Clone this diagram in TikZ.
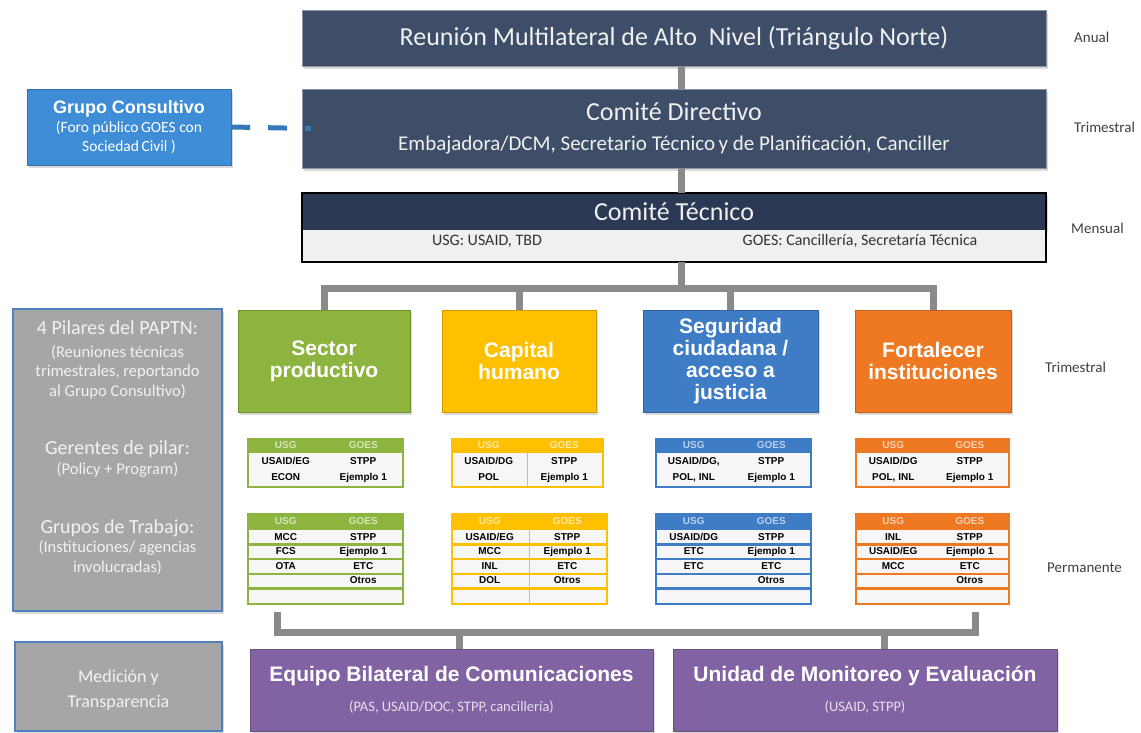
\documentclass[tikz,border=0pt]{standalone}
\usepackage{fontspec}
\setmainfont{Carlito}
\newfontfamily\arialfont{Liberation Sans}
\usetikzlibrary{positioning,calc,shadows}

\definecolor{azulnoche}{RGB}{62,77,104}
\definecolor{azultec}{RGB}{43,57,84}
\definecolor{grislinea}{RGB}{138,138,138}
\definecolor{grispanel}{RGB}{166,166,166}
\definecolor{bordepanel}{RGB}{79,129,189}
\definecolor{azulgrupo}{RGB}{62,141,214}
\definecolor{verde}{RGB}{141,180,62}
\definecolor{amarillo}{RGB}{255,192,0}
\definecolor{azul}{RGB}{62,124,198}
\definecolor{naranja}{RGB}{239,121,34}
\definecolor{morado}{RGB}{129,99,163}

\begin{document}
\begin{tikzpicture}[x=1pt, y=-1pt,
  sombra/.style={drop shadow={shadow xshift=2pt, shadow yshift=-3pt, opacity=0.3}},
  caja/.style={sombra, fill=azulnoche, draw=azulnoche!60!white, line width=0.8, minimum width=744, inner sep=0pt, align=center, text=white!94!black},
  pilar/.style={sombra, fill=#1, draw=#1!80!black, line width=0.6, minimum height=102, inner sep=0pt, align=center, text=white, font=\arialfont\bfseries\fontsize{21}{22}\selectfont},
  panel/.style={sombra, fill=grispanel, draw=bordepanel, line width=2, inner sep=0pt},
  textopanel/.style={align=center, inner sep=0pt, text=white!85!grispanel, font=\fontsize{16.5}{19.5}\selectfont},
  resultado/.style={sombra, fill=morado, draw=morado!80!black, line width=0.6, inner sep=0pt, minimum height=82, align=center, text=white, font=\fontsize{14.5}{30}\selectfont},
  conexion/.style={draw=grislinea, line width=7},
  etiqueta/.style={anchor=west, inner sep=0pt, text=black!75, font=\fontsize{15}{18}\selectfont},
  tabla/.style={draw=#1, fill=gray!7, line width=2, inner sep=0pt, anchor=north west},
  cabeza/.style={text=#1!35, font=\arialfont\bfseries\fontsize{10}{12}\selectfont, inner sep=0pt, text height=7.2pt, text depth=1.8pt},
  celda/.style={text=black, font=\arialfont\bfseries\fontsize{10}{12}\selectfont, inner sep=0pt, text height=7.2pt, text depth=1.8pt}
]

\useasboundingbox (0,0) rectangle (1141,732);

% niveles de coordinacion
\node[caja, minimum height=56, font=\fontsize{26}{30}\selectfont] (reunion) at (674,38) {Reunión Multilateral de Alto\ \ Nivel (Triángulo Norte)};
\node[caja, minimum height=79, font=\fontsize{21}{30}\selectfont] (directivo) at (674,128.5)
  {{\fontsize{26}{30}\selectfont Comité Directivo}\\Embajadora/DCM, Secretario Técnico\,y de Planificación, Canciller};
\node[caja, fill=azultec, draw=azultec, minimum height=37, font=\fontsize{26}{30}\selectfont] (tecnico) at (674,211.5) {Comité Técnico};
\node[fill=gray!12, minimum width=744, minimum height=32, inner sep=0pt] (miembros) at (674,246) {};
\draw[black, line width=2] (tecnico.north west) rectangle (miembros.south east);
\node[font=\fontsize{16}{18}\selectfont, text=black!80] (usg) at (487,241) {USG:\ USAID, TBD};
\node[font=\fontsize{16}{18}\selectfont, text=black!80] (goes) at (860,241) {GOES: Cancillería, Secretaría Técnica};

% grupo consultivo
\node[sombra, fill=azulgrupo, draw=azulgrupo!80!black, minimum width=204, minimum height=76, inner sep=0pt, align=center, text=white, font=\fontsize{15.5}{19}\selectfont] (grupo) at (129,127)
  {{\arialfont\bfseries\fontsize{18}{19}\selectfont Grupo Consultivo}\\(Foro público\,GOES con\\Sociedad\,Civil )};
\draw[azulgrupo!85!black, line width=5, dash pattern=on 19pt off 18pt] (grupo.east) -- ([xshift=9]directivo.west);

% frecuencia
\node[etiqueta] (anual) at (1074,37) {Anual};
\node[etiqueta] (trimdir) at (1074,127) {Trimestral};
\node[etiqueta] (mensual) at (1071,228) {Mensual};
\node[etiqueta] (trimpil) at (1045,367) {Trimestral};
\node[etiqueta] (permanente) at (1047,568) {Permanente};

% paneles grises
\node[panel, minimum width=209, minimum height=302] (pilares) at (117.5,460) {};
\node[textopanel] (pilarestxt) at (117.5,360) {{\fontsize{20}{19.5}\selectfont 4 Pilares del PAPTN:}\\[3pt](Reuniones técnicas\\trimestrales, reportando\\al Grupo Consultivo)};
\node[textopanel] (gerentestxt) at (117.5,459) {{\fontsize{20}{19.5}\selectfont Gerentes de pilar:}\\(Policy + Program)};
\node[textopanel] (grupostxt) at (117.5,547) {{\fontsize{20}{19.5}\selectfont Grupos de Trabajo:}\\(Instituciones/ agencias\\involucradas)};
\node[panel, minimum width=207, minimum height=89] (medicion) at (118.5,686.5) {};
\node[textopanel, font=\fontsize{18}{25}\selectfont] (mediciontxt) at (118.5,690) {Medición y\\Transparencia};

% pilares
\node[pilar=verde, minimum width=172] (sector) at (324,361) {Sector\\productivo};
\node[pilar=amarillo, minimum width=154] (capital) at (519,361) {Capital\\humano};
\node[pilar=azul, minimum width=175] (seguridad) at (730.5,361) {Seguridad\\ciudadana /\\acceso a\\justicia};
\node[pilar=naranja, minimum width=156] (fortalecer) at (933,361) {Fortalecer\\instituciones};

% conexiones
\coordinate (bus) at (681,288);
\draw[conexion] ([xshift=7]reunion.south) -- ([xshift=7]directivo.north);
\draw[conexion] ([xshift=7]directivo.south) -- ([xshift=7]tecnico.north);
\draw[conexion] ([xshift=7]miembros.south) -- (bus);
\foreach \pil in {sector, capital, seguridad, fortalecer}
    \draw[conexion] (\pil.north) |- (bus);

% gerentes de pilar
\foreach \pil/\col/\xl/\w/\filas in {
    sec/verde/247/155/{{USAID/EG}/STPP, ECON/{Ejemplo 1}},
    cap/amarillo/451/151/{{USAID/DG}/STPP, POL/{Ejemplo 1}},
    seg/azul/655/155/{{USAID/DG,}/STPP, {POL, INL}/{Ejemplo 1}},
    for/naranja/855/153/{{USAID/DG}/STPP, {POL, INL}/{Ejemplo 1}}}
{
    \node[tabla=\col, minimum width=\w, minimum height=48] (g\pil) at (\xl,438) {};
    \fill[\col] (g\pil.north west) rectangle ([yshift=-15]g\pil.north east);
    \node[cabeza=\col] (g\pil-usg) at ($(g\pil.north west)+(0.25*\w,7.5)$) {USG};
    \node[cabeza=\col] (g\pil-goes) at ($(g\pil.north west)+(0.75*\w,7.5)$) {GOES};
    \foreach \us/\go [count=\i] in \filas {
        \node[celda] (g\pil-u\i) at ($(g\pil.north west)+(0.25*\w,15+16*\i-7)$) {\us};
        \node[celda] (g\pil-g\i) at ($(g\pil.north west)+(0.75*\w,15+16*\i-7)$) {\go};
    }
}

% grupos de trabajo
\foreach \pil/\col/\xl/\w/\filas in {
    sec/verde/247/155/{MCC/STPP, FCS/{Ejemplo 1}, OTA/ETC, {}/Otros},
    cap/amarillo/451/155/{{USAID/EG}/STPP, MCC/{Ejemplo 1}, INL/ETC, DOL/Otros},
    seg/azul/655/155/{{USAID/DG}/STPP, ETC/{Ejemplo 1}, ETC/ETC, {}/Otros},
    for/naranja/855/153/{INL/STPP, {USAID/EG}/{Ejemplo 1}, MCC/ETC, {}/Otros}}
{
    \node[tabla=\col, minimum width=\w, minimum height=90] (t\pil) at (\xl,513) {};
    \fill[\col] (t\pil.north west) rectangle ([yshift=-17]t\pil.north east);
    \foreach \k in {1,...,4}
        \draw[\col, line width=2.5] ($(t\pil.north west)+(0,17+14.6*\k)$) -- ++(\w,0);
    \node[cabeza=\col] (t\pil-usg) at ($(t\pil.north west)+(0.25*\w,8.5)$) {USG};
    \node[cabeza=\col] (t\pil-goes) at ($(t\pil.north west)+(0.75*\w,8.5)$) {GOES};
    \foreach \us/\go [count=\i] in \filas {
        \node[celda] (t\pil-u\i) at ($(t\pil.north west)+(0.25*\w,17+14.6*\i-7.3)$) {\us};
        \node[celda] (t\pil-g\i) at ($(t\pil.north west)+(0.75*\w,17+14.6*\i-7.3)$) {\go};
    }
}
\draw[amarillo, line width=1.2] (gcap.north) -- (gcap.south);
\draw[amarillo, line width=1.2] (tcap.north) -- (tcap.south);

% medicion y transparencia
\node[resultado, minimum width=403] (equipo) at (451.5,690)
  {{\arialfont\bfseries\fontsize{21}{30}\selectfont Equipo Bilateral de Comunicaciones}\\{\color{white!80!morado}(PAS, USAID/DOC, STPP,\,cancillería)}};
\node[resultado, minimum width=384] (unidad) at (865,690)
  {{\arialfont\bfseries\fontsize{21}{30}\selectfont Unidad de Monitoreo y Evaluación}\\{\color{white!80!morado}(USAID, STPP)}};

\coordinate (bizq0) at (277,612);
\coordinate (bizq) at (277,632);
\coordinate (bder) at (975,632);
\coordinate (bder0) at (975,612);
\coordinate (beq) at (459,632);
\coordinate (bun) at (884,632);
\draw[conexion] (bizq0) -- (bizq) -- (bder) -- (bder0);
\draw[conexion] (beq) -- (beq |- equipo.north);
\draw[conexion] (bun) -- (bun |- unidad.north);

\end{tikzpicture}
\end{document}
